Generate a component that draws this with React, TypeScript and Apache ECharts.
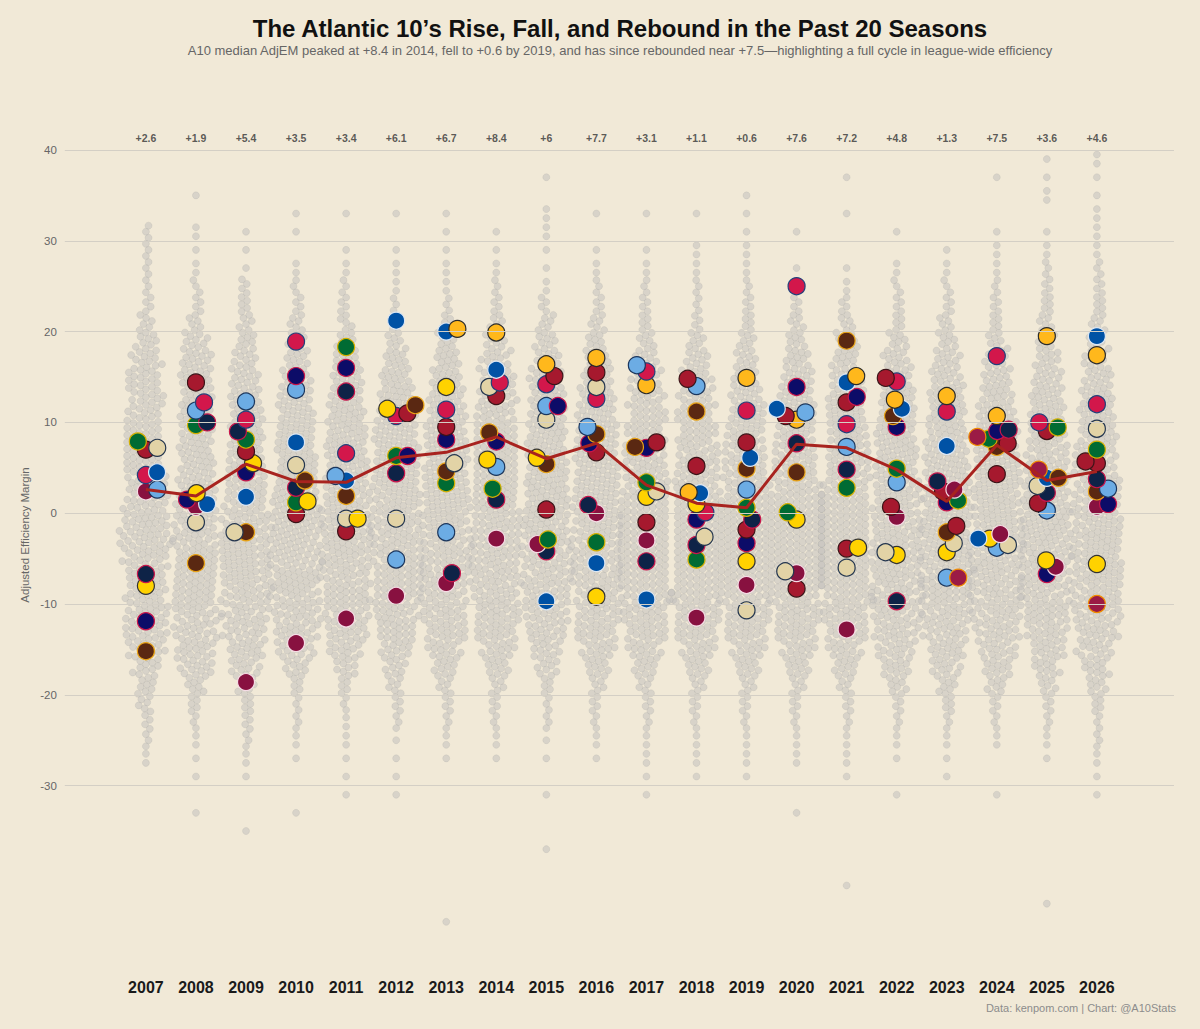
import React, { useEffect, useRef } from "react";
import * as echarts from "echarts";

// ---------------- DATA ----------------
const SEASONS = [2007, 2008, 2009, 2010, 2011, 2012, 2013, 2014, 2015, 2016, 2017, 2018, 2019, 2020, 2021, 2022, 2023, 2024, 2025, 2026];
const MEDIANS = [2.6, 1.9, 5.4, 3.5, 3.4, 6.1, 6.7, 8.4, 6.0, 7.7, 3.1, 1.1, 0.6, 7.6, 7.2, 4.8, 1.3, 7.5, 3.6, 4.6];
const Y_TICKS = [40, 30, 20, 10, 0, -10, -20, -30];

// All D-I teams, counted in 2-point AdjEM bins; GRAY_TOP = centre of the highest bin, bins step down by 2
const GRAY_TOP = [31, 35, 31, 33, 33, 33, 33, 31, 37, 33, 33, 33, 35, 31, 37, 31, 29, 37, 39, 39];
const GRAY_COUNTS: number[][] = [
  [3, 3, 3, 3, 4, 6, 9, 12, 14, 14, 14, 15, 16, 16, 17, 18, 20, 22, 18, 17, 17, 18, 18, 15, 11, 8, 6, 4, 3, 2],
  [1, 0, 2, 1, 2, 3, 4, 6, 10, 13, 14, 14, 14, 14, 15, 15, 16, 17, 18, 18, 18, 18, 18, 18, 17, 16, 14, 8, 5, 3, 2, 1, 1, 0, 1],
  [1, 1, 1, 4, 5, 6, 8, 10, 12, 13, 14, 15, 15, 16, 17, 17, 20, 21, 21, 21, 20, 18, 17, 15, 12, 8, 5, 4, 3, 2, 1, 0, 0, 1],
  [1, 1, 0, 2, 3, 4, 6, 8, 10, 12, 14, 15, 16, 17, 18, 19, 20, 21, 21, 21, 20, 20, 19, 18, 15, 10, 5, 3, 3, 2, 1, 0, 0, 1],
  [1, 0, 1, 2, 3, 4, 5, 8, 11, 13, 14, 16, 17, 18, 18, 19, 20, 21, 21, 21, 20, 19, 18, 17, 14, 9, 5, 3, 2, 2, 1, 1, 1],
  [1, 0, 1, 2, 2, 3, 4, 7, 10, 13, 15, 16, 18, 19, 19, 20, 20, 21, 21, 21, 20, 20, 18, 16, 13, 9, 6, 4, 3, 1, 1, 1, 1],
  [1, 1, 1, 2, 2, 3, 5, 8, 11, 13, 15, 16, 17, 18, 18, 19, 20, 20, 20, 20, 20, 19, 18, 17, 14, 10, 6, 4, 3, 2, 1, 0, 0, 0, 0, 0, 0, 0, 0, 1],
  [1, 1, 2, 3, 4, 6, 9, 12, 14, 15, 16, 17, 18, 18, 19, 19, 20, 20, 20, 20, 19, 19, 17, 14, 10, 6, 4, 3, 2, 1],
  [1, 0, 2, 2, 1, 1, 2, 4, 6, 9, 11, 13, 15, 16, 17, 17, 18, 19, 19, 20, 20, 20, 20, 19, 18, 16, 12, 9, 5, 3, 3, 1, 1, 0, 1, 0, 0, 1],
  [1, 0, 1, 2, 3, 4, 6, 8, 11, 13, 15, 16, 17, 18, 18, 19, 19, 20, 20, 20, 20, 19, 18, 17, 14, 10, 6, 4, 3, 2, 1],
  [1, 0, 1, 2, 3, 4, 5, 7, 10, 12, 14, 15, 16, 17, 18, 19, 20, 21, 21, 21, 20, 20, 19, 17, 14, 10, 6, 4, 3, 2, 2, 1, 1],
  [1, 0, 2, 2, 3, 3, 4, 7, 10, 12, 14, 15, 16, 17, 18, 19, 20, 21, 21, 21, 20, 20, 19, 17, 14, 10, 6, 4, 3, 2, 2, 1],
  [1, 1, 1, 2, 2, 3, 4, 5, 7, 9, 11, 13, 15, 16, 17, 18, 19, 20, 21, 21, 21, 21, 20, 19, 17, 14, 10, 6, 4, 3, 2, 2, 1],
  [1, 0, 1, 2, 4, 6, 8, 11, 13, 14, 15, 16, 17, 18, 19, 20, 21, 21, 21, 21, 20, 19, 17, 14, 10, 6, 4, 3, 2, 2, 0, 0, 1],
  [1, 0, 1, 0, 0, 1, 2, 4, 6, 9, 11, 13, 15, 16, 17, 17, 18, 19, 20, 21, 21, 21, 21, 20, 19, 17, 14, 10, 6, 4, 3, 2, 2, 1, 0, 0, 0, 0, 0, 1],
  [1, 0, 2, 3, 4, 5, 8, 11, 13, 15, 16, 17, 18, 18, 19, 20, 20, 21, 21, 21, 21, 20, 18, 15, 12, 8, 4, 3, 2, 1, 0, 1],
  [1, 2, 3, 4, 6, 8, 11, 13, 15, 16, 17, 18, 19, 19, 20, 21, 21, 22, 22, 21, 20, 18, 15, 12, 8, 5, 3, 2, 1, 1],
  [1, 0, 0, 1, 2, 2, 3, 4, 5, 7, 10, 12, 14, 16, 17, 18, 19, 20, 20, 21, 21, 22, 22, 21, 20, 18, 15, 12, 8, 4, 3, 2, 0, 0, 1],
  [1, 1, 2, 0, 1, 2, 3, 4, 5, 6, 8, 10, 12, 14, 15, 16, 17, 18, 19, 20, 21, 21, 21, 21, 20, 19, 17, 14, 11, 7, 4, 3, 2, 1, 0, 0, 0, 0, 0, 0, 0, 1],
  [2, 1, 1, 2, 2, 2, 3, 4, 5, 6, 8, 10, 12, 14, 15, 16, 17, 18, 19, 20, 20, 21, 21, 21, 20, 19, 17, 14, 11, 8, 5, 3, 3, 2, 1, 1],
];

// Atlantic 10 teams per season: [AdjEM, colour scheme]
const A10_POINTS: Array<Array<[number, string]>> = [
  [[7.9, "green"], [7.2, "beige"], [7.0, "red"], [4.2, "crimson"], [4.5, "blue"], [2.4, "maroon"], [2.6, "lightblue"], [-6.7, "darknavy"], [-8.0, "yellow"], [-11.9, "navy"], [-15.2, "brown"]],
  [[14.4, "red"], [12.2, "crimson"], [11.3, "lightblue"], [10.0, "darknavy"], [9.7, "green"], [2.2, "yellow"], [1.5, "navy"], [1.0, "blue"], [0.7, "maroon"], [-1.0, "beige"], [-5.5, "brown"]],
  [[12.3, "lightblue"], [10.3, "crimson"], [9.0, "darknavy"], [8.1, "green"], [6.8, "red"], [5.5, "yellow"], [4.5, "navy"], [1.8, "blue"], [-2.1, "brown"], [-2.1, "beige"], [-18.6, "maroon"]],
  [[18.9, "crimson"], [15.1, "navy"], [13.6, "lightblue"], [7.8, "blue"], [5.3, "beige"], [3.6, "brown"], [2.8, "darknavy"], [1.3, "yellow"], [1.2, "green"], [-0.1, "red"], [-14.3, "maroon"]],
  [[18.3, "green"], [16.0, "navy"], [13.4, "darknavy"], [6.6, "crimson"], [4.1, "lightblue"], [3.6, "blue"], [1.9, "brown"], [-0.6, "beige"], [-0.6, "yellow"], [-2.0, "red"], [-11.6, "maroon"]],
  [[21.2, "blue"], [11.9, "brown"], [11.5, "yellow"], [11.0, "red"], [10.7, "crimson"], [6.3, "green"], [6.3, "navy"], [4.4, "darknavy"], [-0.6, "beige"], [-5.1, "lightblue"], [-9.1, "maroon"]],
  [[20.3, "gold"], [20.0, "blue"], [13.9, "yellow"], [11.4, "crimson"], [9.5, "red"], [8.1, "navy"], [5.5, "beige"], [4.6, "brown"], [3.3, "green"], [-2.1, "lightblue"], [-6.6, "darknavy"], [-7.7, "maroon"]],
  [[19.9, "gold"], [15.8, "blue"], [14.4, "crimson"], [13.9, "beige"], [12.9, "red"], [8.9, "brown"], [7.9, "navy"], [5.9, "yellow"], [5.1, "lightblue"], [2.7, "green"], [1.5, "darknavy"], [-2.8, "maroon"]],
  [[16.4, "gold"], [15.1, "red"], [14.2, "crimson"], [11.8, "lightblue"], [11.8, "navy"], [10.3, "beige"], [6.1, "yellow"], [5.4, "brown"], [0.4, "red"], [-2.9, "green"], [-3.4, "maroon"], [-4.2, "darknavy"], [-9.7, "blue"]],
  [[17.1, "gold"], [15.5, "red"], [13.9, "beige"], [12.6, "crimson"], [9.5, "lightblue"], [8.7, "brown"], [7.7, "navy"], [6.7, "red"], [0.9, "darknavy"], [0.0, "maroon"], [-3.2, "green"], [-5.5, "blue"], [-9.2, "yellow"]],
  [[16.3, "lightblue"], [15.6, "crimson"], [14.1, "gold"], [7.8, "red"], [7.3, "brown"], [7.2, "navy"], [3.4, "green"], [2.4, "beige"], [1.8, "yellow"], [-1.0, "red"], [-3.0, "maroon"], [-5.3, "darknavy"], [-9.5, "blue"]],
  [[14.8, "red"], [14.0, "lightblue"], [11.2, "brown"], [5.2, "red"], [2.3, "gold"], [2.2, "blue"], [1.0, "yellow"], [0.1, "crimson"], [-0.7, "navy"], [-2.6, "beige"], [-3.5, "darknavy"], [-5.1, "green"], [-11.5, "maroon"]],
  [[14.9, "gold"], [11.3, "crimson"], [7.8, "red"], [6.1, "blue"], [4.9, "brown"], [2.6, "lightblue"], [0.6, "green"], [-0.7, "darknavy"], [-1.8, "red"], [-3.3, "navy"], [-5.3, "yellow"], [-7.9, "maroon"], [-10.7, "beige"]],
  [[25.0, "crimson"], [13.9, "navy"], [11.5, "blue"], [11.1, "lightblue"], [10.7, "red"], [10.3, "gold"], [7.7, "darknavy"], [4.5, "brown"], [0.1, "green"], [-0.7, "yellow"], [-6.4, "beige"], [-6.6, "maroon"], [-8.3, "red"]],
  [[19.0, "brown"], [15.1, "gold"], [14.4, "blue"], [12.8, "navy"], [12.2, "red"], [9.8, "crimson"], [7.3, "lightblue"], [4.8, "darknavy"], [2.8, "green"], [-3.8, "yellow"], [-3.9, "red"], [-6.0, "beige"], [-12.8, "maroon"]],
  [[14.9, "red"], [14.5, "crimson"], [12.5, "gold"], [11.5, "blue"], [10.7, "brown"], [9.5, "navy"], [4.9, "green"], [3.4, "lightblue"], [0.7, "red"], [-0.4, "maroon"], [-4.3, "beige"], [-4.6, "yellow"], [-9.7, "darknavy"]],
  [[12.9, "gold"], [11.2, "crimson"], [7.4, "blue"], [3.5, "darknavy"], [2.6, "maroon"], [2.4, "red"], [1.4, "green"], [1.2, "navy"], [-1.4, "red"], [-2.1, "brown"], [-3.3, "beige"], [-4.3, "yellow"], [-7.1, "lightblue"], [-7.1, "redorange"]],
  [[17.3, "crimson"], [10.7, "gold"], [9.2, "darknavy"], [9.05, "navy"], [8.4, "redorange"], [8.2, "green"], [7.7, "red"], [7.3, "brown"], [4.3, "red"], [-2.3, "maroon"], [-2.8, "yellow"], [-2.8, "blue"], [-3.5, "beige"], [-3.8, "lightblue"]],
  [[19.5, "gold"], [10.0, "crimson"], [9.45, "green"], [9.05, "red"], [4.8, "redorange"], [3.9, "blue"], [3.9, "brown"], [3.0, "beige"], [2.25, "darknavy"], [1.1, "red"], [0.3, "lightblue"], [-5.2, "yellow"], [-5.9, "maroon"], [-6.7, "navy"]],
  [[19.5, "blue"], [17.4, "gold"], [12.0, "crimson"], [9.3, "beige"], [7.0, "green"], [5.7, "red"], [5.5, "red"], [3.75, "darknavy"], [2.7, "lightblue"], [2.4, "brown"], [1.0, "navy"], [0.7, "maroon"], [-5.6, "yellow"], [-10.0, "redorange"]],
];

// ---------------- STYLE ----------------
const TEAM_COLORS: Record<string, { fill: string; stroke: string }> = {
  gold: { fill: "#FFB81C", stroke: "#2B2B2B" },
  yellow: { fill: "#FFD200", stroke: "#333333" },
  brown: { fill: "#5A2812", stroke: "#E8A317" },
  lightblue: { fill: "#6CACE4", stroke: "#1B365D" },
  beige: { fill: "#E2D3A6", stroke: "#24364F" },
  blue: { fill: "#0052A5", stroke: "#DCE6F2" },
  green: { fill: "#006B33", stroke: "#D4B000" },
  crimson: { fill: "#D3174B", stroke: "#23407A" },
  red: { fill: "#A6192E", stroke: "#3B1418" },
  maroon: { fill: "#881140", stroke: "#F5DCE5" },
  navy: { fill: "#0C0C68", stroke: "#C8164B" },
  darknavy: { fill: "#0E2347", stroke: "#C8164B" },
  redorange: { fill: "#9B1B45", stroke: "#F08C00" },
};

const BG = "#F1E9D7";
const FONT = '"Liberation Sans", Arial, Helvetica, sans-serif';
const W = 1200;
const H = 1029;
const X0_PX = 146; // pixel of first season
const X_STEP = 50.1; // pixels per season
const Y40_PX = 150; // pixel of AdjEM = 40
const PXU = 9.08; // pixels per AdjEM point
const X_MIN = -2;
const X_MAX = 21;
const Y_MIN = -50;
const Y_MAX = 43;
const GRID_X0 = -1.62;
const GRID_X1 = 20.54;

// simple beeswarm: ys in px sorted ascending, returns x offsets in px
function swarm(ys: number[], d: number): number[] {
  const xs: number[] = new Array(ys.length).fill(0);
  for (let i = 0; i < ys.length; i++) {
    const y = ys[i];
    const nb: number[] = [];
    for (let j = i - 1; j >= 0 && y - ys[j] < d; j--) nb.push(j);
    const cands = [0];
    for (const j of nb) {
      const dy = y - ys[j];
      const dx = Math.sqrt(Math.max(0, d * d - dy * dy));
      cands.push(xs[j] + dx, xs[j] - dx);
    }
    const flip = i % 2 === 0 ? 1 : -1;
    cands.sort((a, b) => Math.abs(a) - Math.abs(b) || flip * (a - b));
    let chosen = cands[cands.length - 1];
    for (const c of cands) {
      let ok = true;
      for (const j of nb) {
        const dy = y - ys[j];
        const dx = c - xs[j];
        if (dx * dx + dy * dy < d * d - 1e-6) {
          ok = false;
          break;
        }
      }
      if (ok) {
        chosen = c;
        break;
      }
    }
    xs[i] = chosen;
  }
  return xs;
}

function buildOption() {
  const grayData: number[][] = [];
  SEASONS.forEach((_, s) => {
    const vals: number[] = [];
    GRAY_COUNTS[s].forEach((n, k) => {
      const c = GRAY_TOP[s] - 2 * k;
      for (let j = 0; j < n; j++) vals.push(c - 1 + ((j + 0.5) * 2) / n);
    });
    vals.sort((a, b) => a - b);
    const xs = swarm(vals.map((v) => v * PXU), 6.6);
    vals.forEach((v, i) => grayData.push([s + xs[i] / X_STEP, v]));
  });

  const teamData: any[] = [];
  A10_POINTS.forEach((pts, s) => {
    const sorted = [...pts].sort((a, b) => a[0] - b[0]);
    const xs = swarm(sorted.map((p) => p[0] * PXU), 11.5);
    sorted.forEach((p, i) => {
      const c = TEAM_COLORS[p[1]];
      teamData.push({
        value: [s + xs[i] / X_STEP, p[0]],
        itemStyle: { color: c.fill, borderColor: c.stroke, borderWidth: 1.2, opacity: 1 },
      });
    });
  });

  const gridLeft = X0_PX + X_MIN * X_STEP;
  const gridRight = W - (X0_PX + X_MAX * X_STEP);
  const gridTop = Y40_PX - (Y_MAX - 40) * PXU;
  const gridBottom = H - (Y40_PX + (40 - Y_MIN) * PXU);

  return {
    animation: false,
    backgroundColor: BG,
    grid: { left: gridLeft, right: gridRight, top: gridTop, bottom: gridBottom, containLabel: false },
    xAxis: {
      type: "value",
      min: X_MIN,
      max: X_MAX,
      interval: 1,
      axisLine: { show: false },
      axisTick: { show: false },
      splitLine: { show: false },
      axisLabel: {
        formatter: (v: number) => (Number.isInteger(v) && v >= 0 && v < SEASONS.length ? String(SEASONS[v]) : ""),
        fontSize: 16,
        fontWeight: "bold",
        color: "#1a1a1a",
        fontFamily: FONT,
        margin: 12,
      },
    },
    yAxis: {
      type: "value",
      min: Y_MIN,
      max: Y_MAX,
      interval: 10,
      axisLine: { show: false },
      axisTick: { show: false },
      splitLine: { show: false },
      axisLabel: {
        formatter: (v: number) => (Y_TICKS.indexOf(v) >= 0 ? String(v) : ""),
        color: "#666666",
        fontSize: 11.5,
        fontFamily: FONT,
        margin: -11,
      },
    },
    graphic: [
      {
        type: "text",
        x: 620,
        y: 28,
        style: {
          text: "The Atlantic 10\u2019s Rise, Fall, and Rebound in the Past 20 Seasons",
          fill: "#111111",
          fontSize: 24,
          fontWeight: "bold",
          fontFamily: FONT,
          textAlign: "center",
          textVerticalAlign: "middle",
        },
      },
      {
        type: "text",
        x: 620,
        y: 50,
        style: {
          text: "A10 median AdjEM peaked at +8.4 in 2014, fell to +0.6 by 2019, and has since rebounded near +7.5\u2014highlighting a full cycle in league-wide efficiency",
          fill: "#666666",
          fontSize: 13,
          fontFamily: FONT,
          textAlign: "center",
          textVerticalAlign: "middle",
        },
      },
      {
        type: "text",
        x: 25,
        y: 535,
        rotation: Math.PI / 2,
        style: {
          text: "Adjusted Efficiency Margin",
          fill: "#666666",
          fontSize: 11.5,
          fontFamily: FONT,
          textAlign: "center",
          textVerticalAlign: "middle",
        },
      },
      {
        type: "text",
        x: 1176,
        y: 1008,
        style: {
          text: "Data: kenpom.com | Chart: @A10Stats",
          fill: "#8c8c8c",
          fontSize: 11,
          fontFamily: FONT,
          textAlign: "right",
          textVerticalAlign: "middle",
        },
      },
    ],
    series: [
      {
        type: "line",
        data: [],
        z: 0,
        silent: true,
        markLine: {
          silent: true,
          symbol: ["none", "none"],
          label: { show: false },
          lineStyle: { color: "#D4CFC5", width: 1, type: "solid" },
          data: Y_TICKS.map((v) => [{ coord: [GRID_X0, v] }, { coord: [GRID_X1, v] }]),
        },
      },
      {
        type: "scatter",
        data: grayData,
        z: 1,
        silent: true,
        symbol: "circle",
        symbolSize: 7,
        itemStyle: { color: "rgba(192,190,187,0.5)", borderColor: "rgba(170,168,165,0.45)", borderWidth: 0.5, opacity: 1 },
      },
      {
        type: "scatter",
        data: teamData,
        z: 3,
        silent: true,
        symbol: "circle",
        symbolSize: 17,
        itemStyle: { opacity: 1 },
      },
      {
        type: "line",
        data: MEDIANS.map((m, i) => [i, m]),
        z: 4,
        silent: true,
        symbol: "none",
        lineStyle: { color: "#A8231F", width: 3 },
      },
      {
        type: "scatter",
        data: MEDIANS.map((m, i) => [i, 41.3]),
        z: 5,
        silent: true,
        symbolSize: 1,
        itemStyle: { color: "rgba(0,0,0,0)" },
        label: {
          show: true,
          position: "inside",
          formatter: (p: any) => "+" + String(MEDIANS[p.dataIndex]),
          fontSize: 10.5,
          fontWeight: "bold",
          color: "#333333",
          fontFamily: FONT,
        },
      },
    ],
  };
}

export default function App() {
  const ref = useRef<HTMLDivElement>(null);
  useEffect(() => {
    document.body.style.margin = "0";
    const chart = echarts.init(ref.current as HTMLDivElement, null, { renderer: "svg" });
    chart.setOption(buildOption() as any);
    return () => chart.dispose();
  }, []);
  return <div ref={ref} style={{ position: "fixed", left: 0, top: 0, width: W, height: H, background: BG }} />;
}
